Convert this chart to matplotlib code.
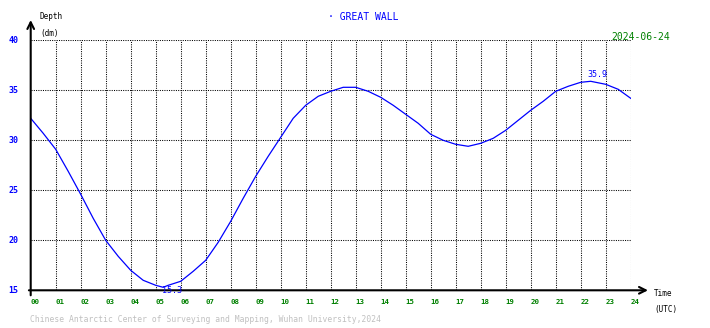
import matplotlib
matplotlib.use('Agg')
import matplotlib.pyplot as plt
import numpy as np

# tide readings, half-hourly (plus min/max samples)
hours = [0, 0.5, 1, 1.5, 2, 2.5, 3, 3.5, 4, 4.5, 5, 5.3, 5.5, 6, 6.5, 7, 7.5,
         8, 8.5, 9, 9.5, 10, 10.5, 11, 11.5, 12, 12.5, 13, 13.5, 14, 14.5,
         15, 15.5, 16, 16.5, 17, 17.5, 18, 18.5, 19, 19.5, 20, 20.5, 21,
         21.5, 22, 22.4, 23, 23.5, 24]
depth = [32.2, 30.7, 29.1, 26.9, 24.6, 22.2, 20.0, 18.4, 17.0, 16.0, 15.5, 15.3,
         15.5, 15.9, 16.9, 18.0, 19.8, 21.9, 24.2, 26.4, 28.4, 30.3, 32.2, 33.5,
         34.4, 34.9, 35.3, 35.3, 34.9, 34.3, 33.5, 32.6, 31.7, 30.6, 30.0, 29.6,
         29.4, 29.7, 30.2, 31.0, 32.0, 33.0, 33.9, 34.9, 35.4, 35.8, 35.9, 35.6,
         35.1, 34.2]

yticks = [15, 20, 25, 30, 35, 40]
xticks = list(range(0, 25))
xlabels = ['%02d' % h for h in xticks]

station = 'GREAT WALL'
day = '2024-06-24'
credit = 'Chinese Antarctic Center of Surveying and Mapping, Wuhan University,2024'

plt.rcParams['font.family'] = 'DejaVu Sans Mono'
green = '#008000'

fig = plt.figure(figsize=(7.1, 3.28), dpi=100)
W, H = 710.0, 328.0
x0, x1 = 30.7, 630.7
ytop, ybot = 40.3, 290.3
ax = fig.add_axes([x0 / W, 1 - ybot / H, (x1 - x0) / W, (ybot - ytop) / H])

ax.set_xlim(0, 24)
ax.set_ylim(15, 40)

# dotted grid
for v in yticks[1:]:
    ax.axhline(v, color='black', lw=0.75, ls=(0, (1, 1.2)), zorder=1)
for h in xticks[1:]:
    ax.axvline(h, color='black', lw=0.75, ls=(0, (1, 1.2)), zorder=1)

ax.plot(hours, depth, color='#0000ff', lw=0.9, zorder=3)

# min / max labels
i_min = int(np.argmin(depth))
i_max = int(np.argmax(depth))
ax.text(hours[i_min] - 0.05, depth[i_min] + 0.15, '%.1f' % depth[i_min], color='#0000ff',
        fontsize=6, ha='left', va='top', zorder=4)
ax.text(hours[i_max] - 0.15, depth[i_max] + 0.2, '%.1f' % depth[i_max], color='#0000ff',
        fontsize=6, ha='left', va='bottom', zorder=4)

for s in ['top', 'right', 'left', 'bottom']:
    ax.spines[s].set_visible(False)
ax.set_xticks([])
ax.set_yticks([])

# axes with arrows
ax.annotate('', xy=(0, (ybot - 20) / (ybot - ytop)), xytext=(0, -0.02),
            xycoords='axes fraction', textcoords='axes fraction',
            arrowprops=dict(arrowstyle='->', color='black', lw=1.5,
                            mutation_scale=12, shrinkA=0, shrinkB=0))
ax.annotate('', xy=((648 - x0) / (x1 - x0), 0), xytext=(-0.003, 0),
            xycoords='axes fraction', textcoords='axes fraction',
            arrowprops=dict(arrowstyle='->', color='black', lw=1.5,
                            mutation_scale=12, shrinkA=0, shrinkB=0))

# tick labels
for v in yticks:
    ax.text(-0.021, v, str(v), color='#0000ff', fontsize=6, ha='right',
            va='center', transform=ax.get_yaxis_transform(), fontweight='bold')
for h, lab in zip(xticks, xlabels):
    ax.text(h, -0.035, lab, color=green, fontsize=5.3, ha='left', va='top',
            transform=ax.get_xaxis_transform(), fontweight='bold')

def px(x, y):
    return x / W, 1 - y / H

fig.text(*px(39.5, 16.5), 'Depth', fontsize=5.5, color='black', va='center')
fig.text(*px(40.5, 33.5), '(dm)', fontsize=5.5, color='black', va='center')
fig.text(*px(654, 294), 'Time', fontsize=5.5, color='black', va='center')
fig.text(*px(654, 309.5), '(UTC)', fontsize=5.5, color='black', va='center')
fig.text(*px(328, 17), '\u00b7 ' + station, fontsize=7, color='#0000ff', va='center')
fig.text(*px(611, 36.5), day, fontsize=7, color=green, va='center')
fig.text(*px(30, 320), credit, fontsize=5.8, color='#c0c0c0', va='center')

fig.savefig('out.png', dpi=100)
